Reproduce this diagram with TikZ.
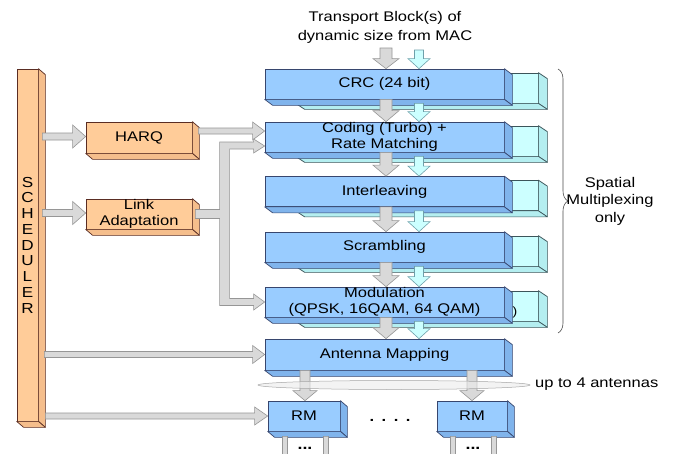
\documentclass[tikz,border=0pt]{standalone}
\usepackage{fontspec}
\setmainfont{Liberation Sans}[FakeStretch=1.18]
\usetikzlibrary{calc,decorations.pathreplacing}
\definecolor{bluefront}{RGB}{153,204,255}
\definecolor{blueside}{RGB}{128,180,236}
\definecolor{blueline}{RGB}{55,70,110}
\definecolor{cyanfront}{RGB}{204,255,255}
\definecolor{cyanside}{RGB}{180,238,240}
\definecolor{cyanline}{RGB}{60,85,90}
\definecolor{orfront}{RGB}{255,204,153}
\definecolor{orside}{RGB}{245,190,140}
\definecolor{orline}{RGB}{90,45,35}
\definecolor{arrfill}{RGB}{217,217,217}
\definecolor{arrline}{RGB}{150,150,150}
\definecolor{carrline}{RGB}{110,160,170}
\newcommand\lbltxt{\fontsize{14}{15.5}\selectfont}
\newcommand\extr[5]{%
 \filldraw[fill=#4,draw=#5,line width=0.7pt,line join=round] (#1.north east) -- ++(#2,#3) -- ($(#1.south east)+(#2,#3)$) -- (#1.south east) -- cycle;
 \filldraw[fill=#4,draw=#5,line width=0.7pt,line join=round] (#1.south west) -- ++(#2,#3) -- ($(#1.south east)+(#2,#3)$) -- (#1.south east) -- cycle;}
\newcommand\DArrow[6]{\draw[#1] let \p1=#2, \p2=#3 in (\x1-#4,\y1) -- (\x1-#4,\y2+#6) -- (\x1-#5,\y2+#6) -- (\x1,\y2) -- (\x1+#5,\y2+#6) -- (\x1+#4,\y2+#6) -- (\x1+#4,\y1) -- cycle;}
\newcommand\RArrow[6]{\draw[#1] let \p1=#2, \p2=#3 in (\x1,\y1+#4) -- (\x2-#6,\y1+#4) -- (\x2-#6,\y1+#5) -- (\x2,\y1) -- (\x2-#6,\y1-#5) -- (\x2-#6,\y1-#4) -- (\x1,\y1-#4) -- cycle;}
\tikzset{
 bluebox/.style={draw=blueline, fill=bluefront, line width=0.7pt, minimum width=239pt, minimum height=30pt, inner sep=0pt, align=center, font=\lbltxt},
 cbox/.style={draw=cyanline, fill=cyanfront, line width=0.7pt, minimum width=242pt, minimum height=30pt, inner sep=0pt},
 orbox/.style={draw=orline, fill=orfront, line width=0.7pt, inner sep=0pt, align=center, font=\lbltxt},
 garrow/.style={fill=arrfill, draw=arrline, line width=0.6pt, line join=miter},
 carrow/.style={fill=cyanfront, draw=carrline, line width=0.6pt, line join=miter},
 lbl/.style={inner sep=0pt, align=center, font=\lbltxt}
}
\newcommand\mainrow[3]{%
 \node[cbox] (b#1) at (417,#2+4) {};
 \extr{b#1}{9}{6}{cyanside}{cyanline}
 \node[bluebox] (#1) at (384.5,#2) {#3};
 \extr{#1}{8}{6}{blueside}{blueline}}
\begin{document}
\begin{tikzpicture}[x=1pt,y=-1pt]
\useasboundingbox (0,0) rectangle (680,453);
\clip (0,0) rectangle (680,453);
\fill[white] (0,0) rectangle (680,453);
% processing chain
\mainrow{crc}{84}{CRC (24 bit)}
\mainrow{coding}{137}{Coding (Turbo) +\\Rate Matching}
\mainrow{inter}{191.5}{Interleaving}
\mainrow{scram}{247}{Scrambling}
\mainrow{modu}{302}{Modulation\\(QPSK, 16QAM, 64 QAM)}
\node[inner sep=0pt, font=\fontsize{12}{12}\selectfont] (paren) at (515,312) {)};
\node[bluebox, minimum height=31pt] (ant) at (384.5,354.5) {Antenna Mapping};
\extr{ant}{8}{6}{blueside}{blueline}
\node[bluebox, minimum width=72pt] (rm1) at (304,416) {RM};
\extr{rm1}{7}{6}{blueside}{blueline}
\node[bluebox, minimum width=70pt] (rm2) at (472,416) {RM};
\extr{rm2}{7}{6}{blueside}{blueline}
% control blocks
\node[orbox, minimum width=21pt, minimum height=352pt, font=\fontsize{14.5}{15.75}\selectfont] (sched) at (27.5,245) {S\\C\\H\\E\\D\\U\\L\\E\\R};
\extr{sched}{7}{6}{orside}{orline}
\node[orbox, minimum width=106pt, minimum height=31pt] (harq) at (139,137.5) {HARQ};
\extr{harq}{7}{6}{orside}{orline}
\node[orbox, minimum width=106pt, minimum height=30pt] (link) at (139,214) {Link\\Adaptation};
\extr{link}{7}{6}{orside}{orline}
% input
\node[lbl, font=\fontsize{14}{19}\selectfont] (title) at (385,27.5) {Transport Block(s) of\\dynamic size from MAC};
\coordinate (tin) at (386,48);
\coordinate (tinc) at (419,50);
\DArrow{garrow}{(tin)}{($(crc.north)+(1.5,0)$)}{6}{13}{10}
\DArrow{carrow}{(tinc)}{($(crc.north)+(34.5,0)$)}{4.5}{11}{10}
\foreach \a/\b in {crc/coding, coding/inter, inter/scram, scram/modu}{
 \DArrow{garrow}{($(\a.south)+(1.5,0)$)}{($(\b.north)+(1.5,0)$)}{6}{13}{11}
 \DArrow{carrow}{($(b\a.south)+(2,0)$)}{($(\b.north)+(34.5,0)$)}{4.5}{11}{10}
}
\DArrow{garrow}{($(modu.south)+(1.5,0)$)}{($(ant.north)+(1.5,0)$)}{6}{13}{11}
\DArrow{carrow}{($(bmodu.south)+(2,0)$)}{($(ant.north)+(34.5,0)$)}{4.5}{11}{10}
% scheduler arrows
\RArrow{garrow}{($(sched.east|-harq.west)+(4,-1)$)}{(harq.west)}{3.5}{11.5}{13}
\RArrow{garrow}{($(sched.east|-link.west)+(4,-1)$)}{(link.west)}{3.5}{11.5}{13}
\RArrow{garrow}{($(sched.east|-ant.west)+(6,0)$)}{(ant.west)}{3}{9}{12}
\RArrow{garrow}{($(sched.east|-rm1.west)+(7,0)$)}{(rm1.west)}{3}{9}{13}
% HARQ / link adaptation to chain
\RArrow{garrow}{($(harq.east)+(6,-6.5)$)}{(coding.west)}{3}{9}{12}
\draw[garrow] let \p1=(link.east), \p2=(coding.west), \p3=(modu.west) in
 (\x1+3,\y1+4.5) -- (\x2-45,\y1+4.5) -- (\x2-45,\y2-5) -- (\x2-11,\y2-5) -- (\x2-11,\y2-2) -- (\x2,\y2-9) -- (\x2-11,\y2-16) -- (\x2-11,\y2-12) -- (\x2-35,\y2-12) -- (\x2-35,\y3+3.5) -- (\x2-11,\y3+3.5) -- (\x2-11,\y3+8) -- (\x2,\y3) -- (\x2-11,\y3-8) -- (\x2-11,\y3-3.5) -- (\x2-45,\y3-3.5) -- (\x2-45,\y1-4.5) -- (\x1+3,\y1-4.5) -- cycle;
% antenna mapping to RMs
\DArrow{garrow}{($(rm1.north|-ant.south)+(1,0)$)}{($(rm1.north)+(1,0)$)}{5}{12}{10}
\DArrow{garrow}{($(rm2.north|-ant.south)+(0,0)$)}{($(rm2.north)+(0,0)$)}{5}{12}{10}
\draw[draw=gray!70, fill=gray!15, fill opacity=0.6, line width=0.5pt] (394,385) ellipse [x radius=136, y radius=4.5];
\node[lbl, anchor=west] (ants) at (535,384) {up to 4 antennas};
% outputs of RMs
\foreach \r in {rm1, rm2}{
 \DArrow{garrow}{($(\r.south)+(-19,5)$)}{($(\r.south)+(-19,45)$)}{2.5}{6}{6}
 \DArrow{garrow}{($(\r.south)+(22,5)$)}{($(\r.south)+(22,45)$)}{2.5}{6}{6}
 \node[inner sep=0pt, anchor=base, font=\bfseries\fontsize{15}{15}\selectfont] at ($(\r.south)+(1,18)$) {...};
}
\node[inner sep=0pt, anchor=base, font=\bfseries\fontsize{14}{14}\selectfont] (dots) at (390,421) {.\hspace{7.5pt}.\hspace{7.5pt}.\hspace{7.5pt}.};
% brace
\coordinate (bt) at (558,69);
\coordinate (bb) at (558,333);
\draw[decorate, decoration={brace, amplitude=10pt}, draw=black!70, line width=0.6pt] (bt) -- (bb);
\node[lbl, font=\fontsize{14}{17.5}\selectfont] (spm) at (610,201) {Spatial\\Multiplexing\\only};
\end{tikzpicture}
\end{document}
